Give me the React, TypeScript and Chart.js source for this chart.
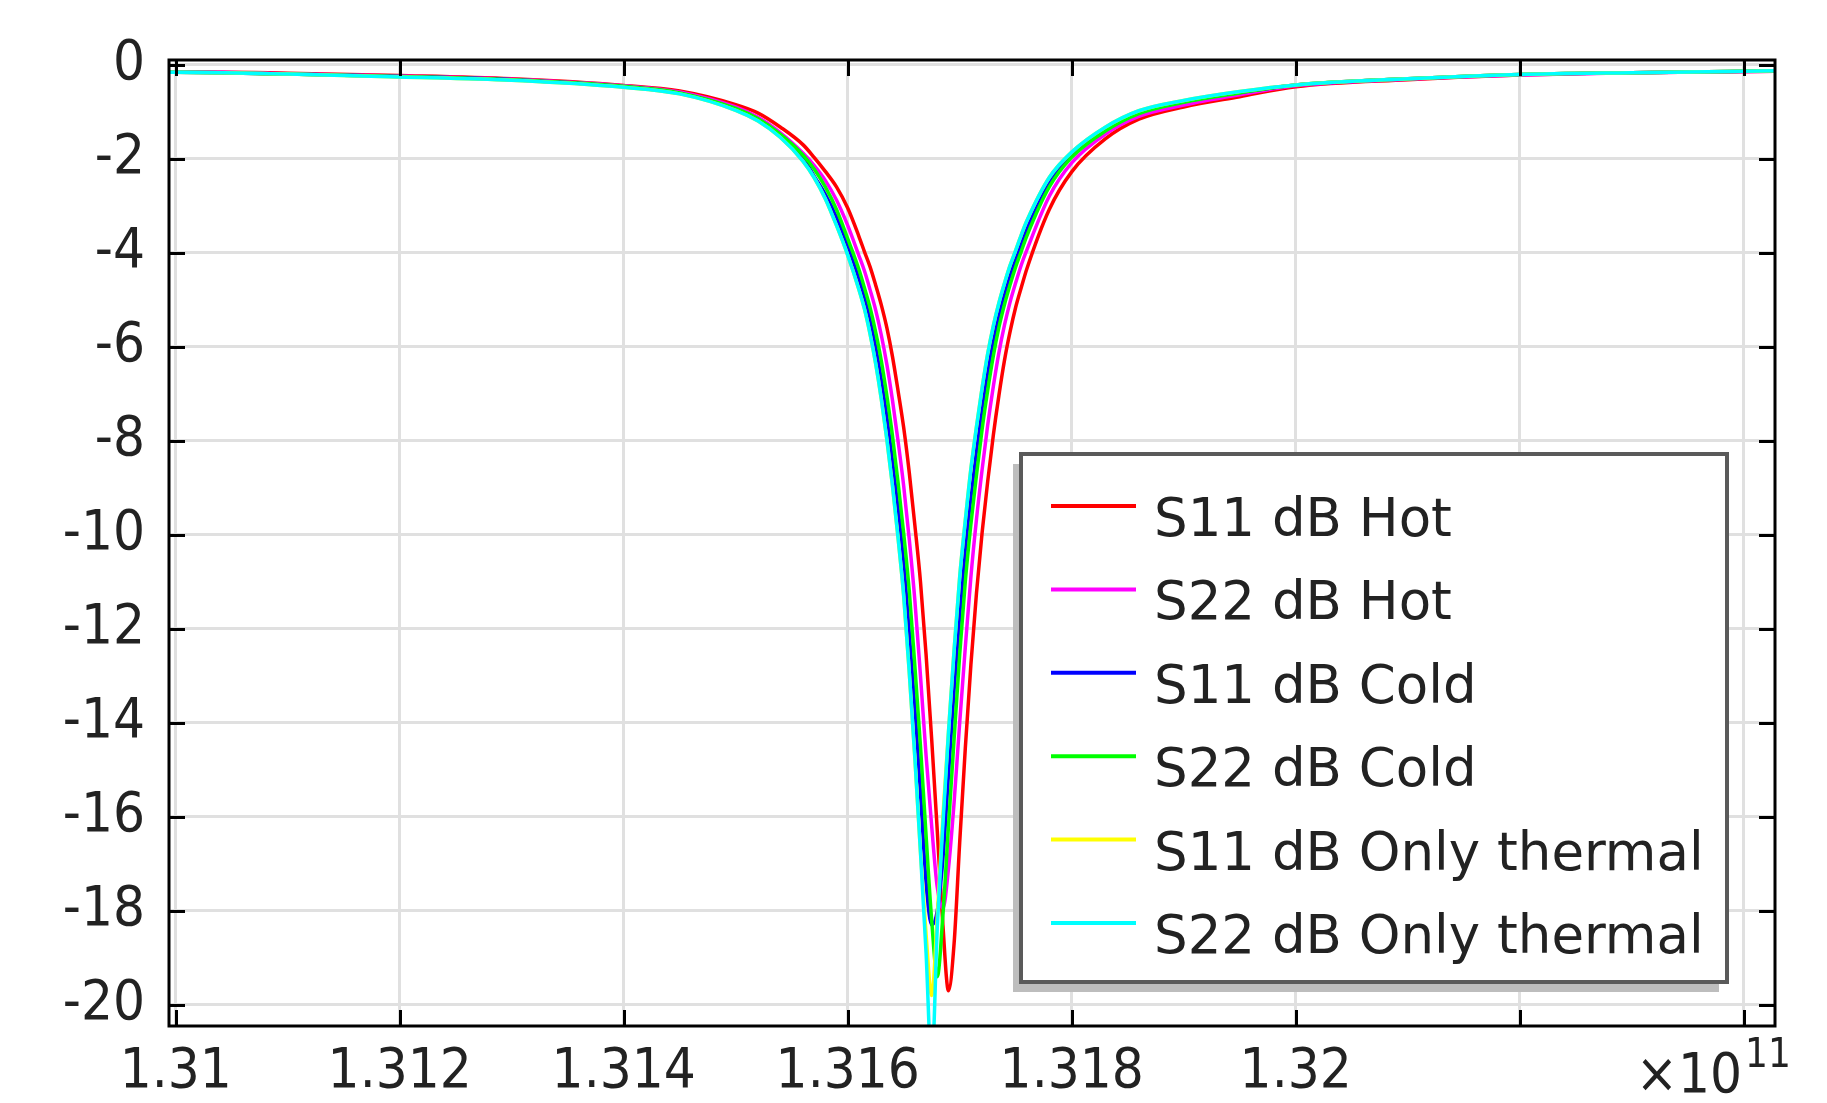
import { useEffect, useRef } from 'react';
import { Chart, registerables } from 'chart.js';

Chart.register(...registerables);

// Frequency in GHz (axis shows value / 100, i.e. units of 1e11 Hz)
const freqGHz = [
  130.994, 131.0, 131.1, 131.2, 131.3, 131.4, 131.45, 131.5, 131.52, 131.54,
  131.56, 131.57, 131.58, 131.59, 131.6, 131.61, 131.615, 131.62, 131.625, 131.63,
  131.635, 131.64, 131.645, 131.65, 131.655, 131.66, 131.665, 131.67, 131.675, 131.68,
  131.685, 131.69, 131.695, 131.7, 131.705, 131.71, 131.715, 131.72, 131.725, 131.73,
  131.735, 131.74, 131.745, 131.75, 131.755, 131.76, 131.78, 131.8, 131.83, 131.86,
  131.9, 131.95, 132.0, 132.1, 132.2, 132.3, 132.428,
];

const s11Hot = [
  -0.15, -0.15, -0.18, -0.23, -0.3, -0.44, -0.56, -0.85, -1.03, -1.33,
  -1.7, -1.97, -2.27, -2.6, -3.05, -3.65, -3.98, -4.3, -4.69, -5.11,
  -5.6, -6.21, -6.94, -7.72, -8.68, -9.8, -11.0, -12.55, -14.35, -16.3,
  -18.3, -19.7, -18.7, -16.55, -14.55, -12.77, -11.24, -9.96, -8.87, -7.89,
  -7.04, -6.29, -5.68, -5.16, -4.74, -4.34, -3.08, -2.28, -1.58, -1.16,
  -0.9, -0.68, -0.47, -0.32, -0.22, -0.17, -0.14,
];

const s22Hot = [
  -0.15, -0.15, -0.19, -0.24, -0.31, -0.45, -0.58, -0.9, -1.12, -1.45,
  -1.88, -2.14, -2.46, -2.88, -3.42, -4.06, -4.39, -4.79, -5.22, -5.75,
  -6.38, -7.14, -8.01, -8.96, -10.1, -11.4, -13.0, -14.7, -16.2, -17.5,
  -17.95, -17.1, -15.7, -14.0, -12.4, -10.9, -9.67, -8.62, -7.67, -6.85,
  -6.13, -5.54, -5.05, -4.64, -4.26, -3.94, -2.8, -2.09, -1.48, -1.1,
  -0.86, -0.64, -0.45, -0.31, -0.22, -0.17, -0.14,
];

const s11Cold = [
  -0.16, -0.16, -0.2, -0.25, -0.32, -0.47, -0.61, -0.95, -1.18, -1.52,
  -1.98, -2.37, -2.76, -3.25, -3.87, -4.56, -4.97, -5.44, -6.01, -6.7,
  -7.5, -8.43, -9.46, -10.6, -12.1, -13.7, -15.5, -17.4, -18.3, -18.0,
  -16.9, -15.1, -13.3, -11.7, -10.3, -9.2, -8.2, -7.3, -6.53, -5.87,
  -5.32, -4.87, -4.47, -4.12, -3.8, -3.48, -2.49, -1.91, -1.37, -1.02,
  -0.79, -0.59, -0.43, -0.3, -0.21, -0.17, -0.13,
];

const s22Cold = [
  -0.16, -0.16, -0.2, -0.25, -0.32, -0.46, -0.6, -0.93, -1.15, -1.48,
  -1.92, -2.22, -2.6, -3.08, -3.7, -4.35, -4.75, -5.17, -5.69, -6.3,
  -7.05, -7.9, -8.89, -9.97, -11.2, -12.8, -14.5, -16.4, -18.2, -19.4,
  -18.1, -16.2, -14.35, -12.55, -11.0, -9.78, -8.73, -7.76, -6.93, -6.2,
  -5.59, -5.1, -4.68, -4.3, -3.97, -3.64, -2.6, -1.97, -1.41, -1.04,
  -0.8, -0.6, -0.43, -0.3, -0.21, -0.17, -0.13,
];

const s11Thermal = [
  -0.16, -0.16, -0.2, -0.26, -0.33, -0.48, -0.62, -0.97, -1.2, -1.55,
  -2.05, -2.4, -2.85, -3.42, -4.05, -4.78, -5.2, -5.73, -6.36, -7.11,
  -7.98, -8.96, -10.07, -11.3, -12.93, -14.75, -16.75, -18.5, -19.8, -18.1,
  -16.0, -14.2, -12.46, -10.9, -9.7, -8.6, -7.7, -6.88, -6.15, -5.56,
  -5.07, -4.65, -4.27, -3.95, -3.62, -3.32, -2.4, -1.86, -1.33, -0.98,
  -0.76, -0.57, -0.43, -0.3, -0.21, -0.17, -0.13,
];

const s22Thermal = [
  -0.16, -0.16, -0.2, -0.26, -0.33, -0.48, -0.62, -0.97, -1.2, -1.55,
  -2.05, -2.4, -2.85, -3.42, -4.05, -4.78, -5.2, -5.73, -6.36, -7.11,
  -7.98, -8.96, -10.07, -11.3, -12.93, -14.75, -16.75, -18.9, -21.3, -18.35,
  -16.15, -14.2, -12.46, -10.9, -9.7, -8.6, -7.7, -6.88, -6.15, -5.56,
  -5.07, -4.65, -4.27, -3.95, -3.62, -3.32, -2.4, -1.86, -1.33, -0.98,
  -0.76, -0.57, -0.43, -0.3, -0.21, -0.17, -0.13,
];

const seriesLabels = [
  'S11 dB Hot',
  'S22 dB Hot',
  'S11 dB Cold',
  'S22 dB Cold',
  'S11 dB Only thermal',
  'S22 dB Only thermal',
];
const seriesValues = [s11Hot, s22Hot, s11Cold, s22Cold, s11Thermal, s22Thermal];
const seriesColors = ['#ff0000', '#ff00ff', '#0000ff', '#00ff00', '#ffff00', '#00ffff'];

const xMin = 130.994;
const xMax = 132.428;
const xStep = 0.2;
const xLastLabelled = 132.0;
const yMin = -20.45;
const yMax = 0.1;
const yStep = 2;
const exponentBase = '×10';
const exponentPower = '11';

const TICK_FONT = "'DejaVu Sans Condensed', 'DejaVu Sans', sans-serif";
const LEGEND_FONT = "'DejaVu Sans', sans-serif";
const TEXT_COLOR = '#222222';

const framePlugin = {
  id: 'frameAndTicks',
  afterDatasetsDraw(chart: any) {
    const { ctx, chartArea: a, scales } = chart;
    const xs = scales.x;
    const ys = scales.y;
    ctx.save();
    ctx.strokeStyle = '#000';
    ctx.lineWidth = 3;
    ctx.beginPath();
    xs.ticks.forEach((t: any) => {
      const px = Math.round(xs.getPixelForValue(t.value)) + 0.5;
      ctx.moveTo(px, a.bottom);
      ctx.lineTo(px, a.bottom - 16);
      ctx.moveTo(px, a.top);
      ctx.lineTo(px, a.top + 16);
    });
    ys.ticks.forEach((t: any) => {
      const py = Math.round(ys.getPixelForValue(t.value)) + 0.5;
      ctx.moveTo(a.left, py);
      ctx.lineTo(a.left + 16, py);
      ctx.moveTo(a.right, py);
      ctx.lineTo(a.right - 16, py);
    });
    ctx.stroke();
    ctx.strokeRect(a.left, a.top, a.right - a.left, a.bottom - a.top);

    // axis exponent
    ctx.fillStyle = TEXT_COLOR;
    ctx.textAlign = 'right';
    ctx.textBaseline = 'alphabetic';
    ctx.font = `56px ${TICK_FONT}`;
    ctx.fillText(exponentBase, a.right - 33, a.bottom + 66);
    ctx.textAlign = 'left';
    ctx.font = `40px ${TICK_FONT}`;
    ctx.fillText(exponentPower, a.right - 30, a.bottom + 41);
    ctx.restore();
  },
  afterDraw(chart: any) {
    const { ctx, chartArea: a } = chart;
    const left = a.right - 754;
    const top = a.top + 394;
    const w = 706;
    const h = 528;
    ctx.save();
    ctx.fillStyle = '#bdbdbd';
    ctx.fillRect(left - 8, top + 10, w, h);
    ctx.fillStyle = '#ffffff';
    ctx.fillRect(left, top, w, h);
    ctx.strokeStyle = '#5a5a5a';
    ctx.lineWidth = 4;
    ctx.strokeRect(left, top, w, h);
    ctx.font = `53px ${LEGEND_FONT}`;
    ctx.textAlign = 'left';
    ctx.textBaseline = 'alphabetic';
    chart.data.datasets.forEach((ds: any, i: number) => {
      const ly = top + 52 + i * 83.4;
      ctx.strokeStyle = ds.borderColor;
      ctx.lineWidth = 4;
      ctx.beginPath();
      ctx.moveTo(left + 30, ly);
      ctx.lineTo(left + 115, ly);
      ctx.stroke();
      ctx.fillStyle = TEXT_COLOR;
      ctx.fillText(ds.label, left + 133, ly + 30);
    });
    ctx.restore();
  },
};

export default function App() {
  const canvasRef = useRef<HTMLCanvasElement | null>(null);

  useEffect(() => {
    const canvas = canvasRef.current;
    if (!canvas) return;
    const datasets = seriesLabels.map((label, i) => ({
      label,
      data: freqGHz.map((f, k) => ({ x: f, y: seriesValues[i][k] })),
      borderColor: seriesColors[i],
      backgroundColor: seriesColors[i],
      borderWidth: 3.5,
      pointRadius: 0,
      fill: false,
      cubicInterpolationMode: 'monotone' as const,
      order: seriesLabels.length - 1 - i,
    }));
    const chart = new Chart(canvas, {
      type: 'line',
      data: { datasets },
      plugins: [framePlugin],
      options: {
        animation: false,
        responsive: false,
        devicePixelRatio: 1,
        layout: { padding: { top: 60, right: 52, left: 0, bottom: 0 } },
        plugins: {
          legend: { display: false },
          tooltip: { enabled: false },
        },
        scales: {
          x: {
            type: 'linear',
            min: xMin,
            max: xMax,
            afterFit: (s: any) => {
              s.height = 77;
            },
            border: { display: false },
            grid: { color: '#e0e0e0', lineWidth: 3, drawTicks: false },
            ticks: {
              stepSize: xStep,
              includeBounds: false,
              maxRotation: 0,
              autoSkip: false,
              padding: 18,
              color: TEXT_COLOR,
              font: { family: TICK_FONT, size: 56, lineHeight: 1 },
              callback: (v: any) => {
                const n = Number(v);
                if (n > xLastLabelled + 1e-6) return '';
                return String(parseFloat((n / 100).toFixed(4)));
              },
            },
          },
          y: {
            type: 'linear',
            min: yMin,
            max: yMax,
            afterFit: (s: any) => {
              s.width = 169;
            },
            border: { display: false },
            grid: { color: '#e0e0e0', lineWidth: 3, drawTicks: false },
            ticks: {
              stepSize: yStep,
              includeBounds: false,
              padding: 24,
              color: TEXT_COLOR,
              font: { family: TICK_FONT, size: 56, lineHeight: 1 },
              callback: (v: any) => String(Math.round(Number(v))),
            },
          },
        },
      },
    });
    return () => chart.destroy();
  }, []);

  return (
    <div style={{ position: 'absolute', left: 0, top: 0, width: 1827, height: 1103, background: '#fff' }}>
      <canvas ref={canvasRef} width={1827} height={1103} style={{ display: 'block' }} />
    </div>
  );
}
